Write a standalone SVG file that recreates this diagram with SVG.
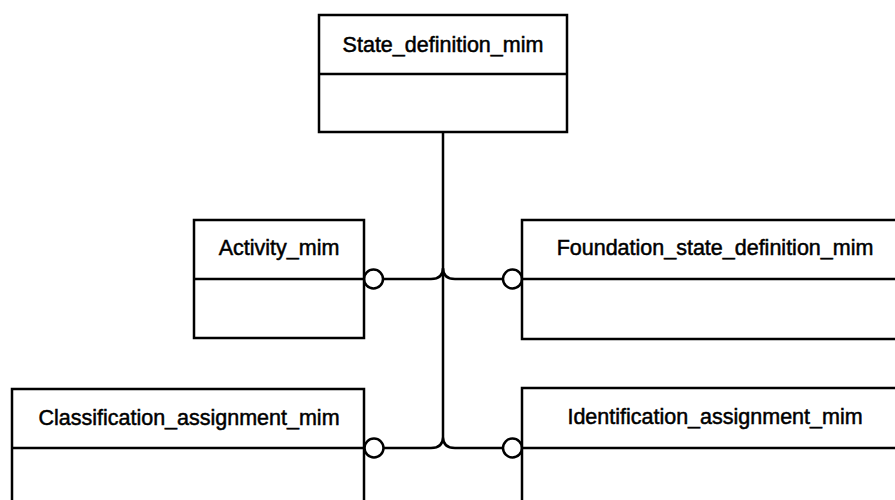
<svg xmlns="http://www.w3.org/2000/svg" width="895" height="500" viewBox="0 0 895 500">
<style>
.box{fill:#fff;stroke:#000;stroke-width:2.5}
.div{stroke:#000;stroke-width:2.5}
.lbl{font-family:"Liberation Sans",Arial,sans-serif;font-size:21.5px;fill:#000;stroke:#000;stroke-width:0.5;text-anchor:middle}
.con{fill:none;stroke:#000;stroke-width:2.5}
.cir{fill:#fff;stroke:#000;stroke-width:2.5}
</style>
<rect width="895" height="500" fill="#fff"/>
<g id="connectors">
<path class="con" d="M443,132 V437"/>
<path class="con" d="M383,279 H431 Q443,279 443,268 Q443,279 455,279 H503"/>
<path class="con" d="M384,448 H431 Q443,448 443,437 Q443,448 455,448 H503"/>
<circle class="cir" cx="373.5" cy="279" r="9.5"/>
<circle class="cir" cx="512.5" cy="279" r="9.5"/>
<circle class="cir" cx="374" cy="448" r="9.5"/>
<circle class="cir" cx="512.5" cy="448" r="9.5"/>
</g>
<g id="state_definition_mim">
<rect class="box" x="319" y="15" width="248" height="117"/>
<line class="div" x1="319" y1="74" x2="567" y2="74"/>
<text class="lbl" x="443" y="52">State_definition_mim</text>
</g>
<g id="activity_mim">
<rect class="box" x="194" y="220" width="170" height="118"/>
<line class="div" x1="194" y1="279" x2="364" y2="279"/>
<text class="lbl" x="279" y="255">Activity_mim</text>
</g>
<g id="foundation_state_definition_mim">
<rect class="box" x="522" y="220" width="386" height="119"/>
<line class="div" x1="522" y1="279" x2="908" y2="279"/>
<text class="lbl" x="715" y="255">Foundation_state_definition_mim</text>
</g>
<g id="classification_assignment_mim">
<rect class="box" x="12" y="389" width="352" height="130"/>
<line class="div" x1="12" y1="448" x2="364" y2="448"/>
<text class="lbl" x="189" y="425">Classification_assignment_mim</text>
</g>
<g id="identification_assignment_mim">
<rect class="box" x="522" y="388" width="386" height="130"/>
<line class="div" x1="522" y1="448" x2="908" y2="448"/>
<text class="lbl" x="715" y="424">Identification_assignment_mim</text>
</g>
</svg>
